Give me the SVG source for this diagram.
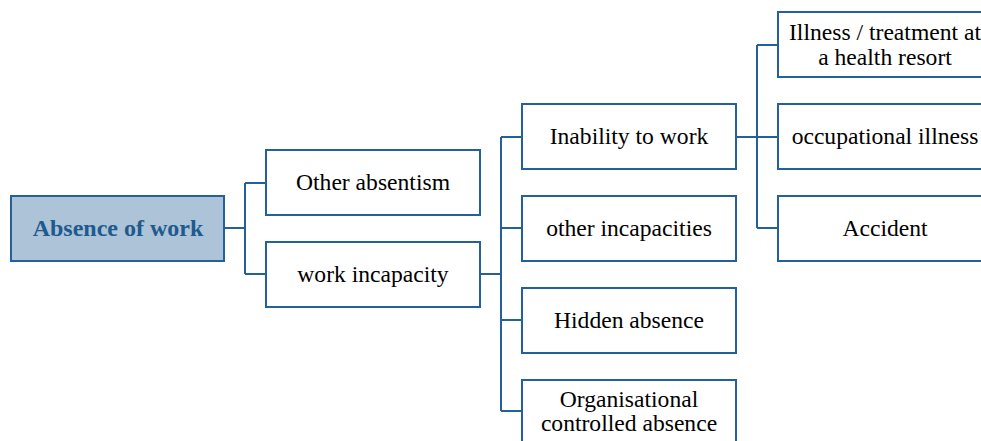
<svg xmlns="http://www.w3.org/2000/svg" width="981" height="441" viewBox="0 0 981 441">
<style>
.box{fill:#ffffff;stroke:#24609a;stroke-width:2}
.root{fill:#adc3d7;stroke:#24609a;stroke-width:2}
.t{font-family:"Liberation Serif","Times New Roman",serif;font-size:23.6px;fill:#000;text-anchor:middle;dominant-baseline:central}
.rt{font-family:"Liberation Serif","Times New Roman",serif;font-size:24px;font-weight:bold;fill:#1f5a8f;text-anchor:middle;dominant-baseline:central}
.c{fill:none;stroke:#24609a;stroke-width:2}
</style>
<rect width="981" height="441" fill="#ffffff"/>
<g id="connectors">
<path class="c" d="M224,228H245M245,183V274M245,183H266M245,274H266"/>
<path class="c" d="M480,274H501M501,137V411M501,137H522M501,228H522M501,320H522M501,411H522"/>
<path class="c" d="M736,137H757M757,45V228M757,45H778M757,137H778M757,228H778"/>
</g>
<g id="absence"><rect class="root" x="11" y="196" width="213" height="65"/><text class="rt" x="118" y="228">Absence of work</text></g>
<g id="other-absentism"><rect class="box" x="266" y="150" width="214" height="65"/><text class="t" x="373" y="182">Other absentism</text></g>
<g id="work-incapacity"><rect class="box" x="266" y="242" width="214" height="65"/><text class="t" x="373" y="274">work incapacity</text></g>
<g id="inability"><rect class="box" x="522" y="104" width="214" height="65"/><text class="t" x="629" y="136">Inability to work</text></g>
<g id="other-incapacities"><rect class="box" x="522" y="196" width="214" height="65"/><text class="t" x="629" y="228">other incapacities</text></g>
<g id="hidden"><rect class="box" x="522" y="288" width="214" height="65"/><text class="t" x="629" y="320">Hidden absence</text></g>
<g id="organisational"><rect class="box" x="522" y="380" width="214" height="65"/><text class="t" x="629" y="399">Organisational</text><text class="t" x="629" y="423">controlled absence</text></g>
<g id="illness"><rect class="box" x="778" y="12" width="214" height="65"/><text class="t" x="885" y="32">Illness / treatment at</text><text class="t" x="885" y="57">a health resort</text></g>
<g id="occupational"><rect class="box" x="778" y="104" width="214" height="65"/><text class="t" x="885" y="136">occupational illness</text></g>
<g id="accident"><rect class="box" x="778" y="196" width="214" height="65"/><text class="t" x="885" y="228">Accident</text></g>
</svg>
